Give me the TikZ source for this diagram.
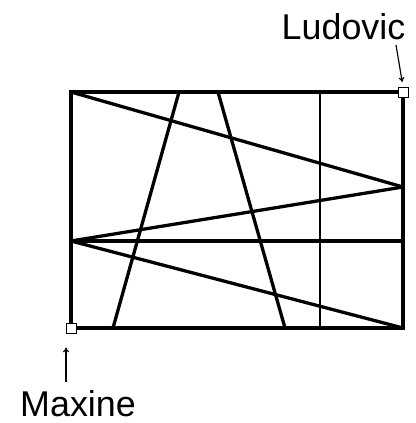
\documentclass[tikz,border=0pt]{standalone}
\usepackage{fontspec}
\setmainfont{Liberation Sans}
\usetikzlibrary{arrows.meta}
\begin{document}
\begin{tikzpicture}[x=0.03cm, y=-0.03cm,
    edge/.style={line width=2.8pt},
    corner/.style={draw, line width=0.8pt, fill=white, minimum size=8.5pt, inner sep=0pt},
    player/.style={font=\fontsize{30.6}{34}\selectfont, inner sep=0pt, anchor=base},
    pointer/.style={-{To[length=4pt,width=5pt]}, line width=1pt}]
    \useasboundingbox (0,0) rectangle (415,423);

    % Frame corners and side points
    \coordinate (tl) at (71,92);
    \coordinate (tr) at (403,92);
    \coordinate (bl) at (71,328);
    \coordinate (br) at (403,328);
    \coordinate (lm) at (71,241);
    \coordinate (rm) at (403,241);
    \coordinate (rp) at (403,187);

    % Points on top and bottom sides
    \coordinate (t1) at (179,92);
    \coordinate (b1) at (113,328);
    \coordinate (t2) at (218,92);
    \coordinate (b2) at (285,328);
    \coordinate (t3) at (320,92);
    \coordinate (b3) at (320,328);

    % Frame
    \draw[edge] (tl) -- (tr) -- (br) -- (bl) -- cycle;

    % Inner lines
    \draw[edge] (tl) -- (rp);
    \draw[edge] (rp) -- (lm);
    \draw[edge] (lm) -- (rm);
    \draw[edge] (lm) -- (br);
    \draw[edge] (t1) -- (b1);
    \draw[edge] (t2) -- (b2);
    \draw[edge, line width=2.4pt] (t3) -- (b3);

    % Start and end squares
    \node[corner] (lud) at (tr) {};
    \node[corner] (max) at (bl) {};

    % Names
    \node[player] (ludname) at (343.5,40) {Ludovic};
    \node[player] (maxname) at (78,416) {Maxine};
    \coordinate (ludfoot) at (396,45);
    \coordinate (maxhead) at (66,382);

    % Pointers
    \draw[pointer, shorten >=4pt] (ludfoot) -- (lud.north);
    \draw[pointer, shorten >=12pt] (maxhead) -- (maxhead |- max.south);
\end{tikzpicture}
\end{document}
